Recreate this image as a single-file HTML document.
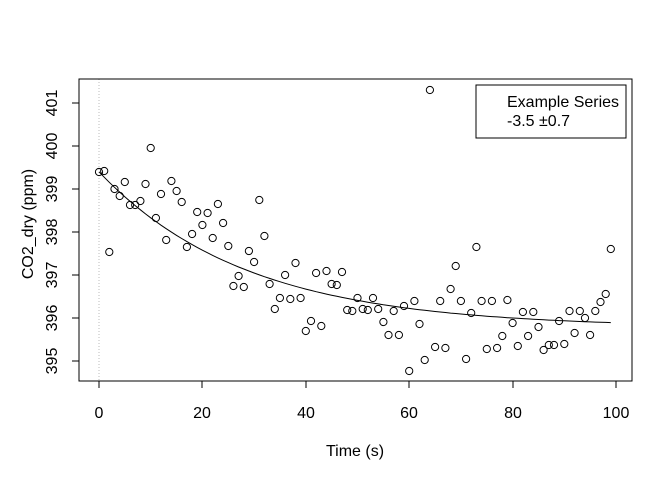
<!DOCTYPE html>
<html><head><meta charset="utf-8"><style>body{margin:0;background:#fff}svg{display:block;font-family:"Liberation Sans",sans-serif}</style></head>
<body>
<svg id="s" width="672" height="480" xmlns="http://www.w3.org/2000/svg">
<rect x="0" y="0" width="672" height="480" fill="#fff"/>
<line x1="99" y1="79" x2="99" y2="381" stroke="#bbb" stroke-dasharray="1,2"/>
<rect x="79" y="79" width="553" height="302" fill="none" stroke="#000"/>
<g stroke="#000">
<line x1="99" y1="381" x2="616" y2="381"/>
<line x1="99" y1="381" x2="99" y2="388"/><line x1="202" y1="381" x2="202" y2="388"/><line x1="306" y1="381" x2="306" y2="388"/><line x1="409" y1="381" x2="409" y2="388"/><line x1="513" y1="381" x2="513" y2="388"/><line x1="616" y1="381" x2="616" y2="388"/>
<line x1="79" y1="103" x2="79" y2="361"/>
<line x1="72" y1="361" x2="79" y2="361"/><line x1="72" y1="318" x2="79" y2="318"/><line x1="72" y1="275" x2="79" y2="275"/><line x1="72" y1="232" x2="79" y2="232"/><line x1="72" y1="189" x2="79" y2="189"/><line x1="72" y1="146" x2="79" y2="146"/><line x1="72" y1="103" x2="79" y2="103"/>
</g>
<g font-size="16" text-anchor="middle">
<text x="99" y="418">0</text><text x="202" y="418">20</text><text x="306" y="418">40</text><text x="409" y="418">60</text><text x="513" y="418">80</text><text x="616" y="418">100</text>
<text x="355" y="456">Time (s)</text>
<g transform="translate(57,0)">
<text transform="translate(0,361) rotate(-90)">395</text><text transform="translate(0,318) rotate(-90)">396</text><text transform="translate(0,275) rotate(-90)">397</text><text transform="translate(0,232) rotate(-90)">398</text><text transform="translate(0,189) rotate(-90)">399</text><text transform="translate(0,146) rotate(-90)">400</text><text transform="translate(0,103) rotate(-90)">401</text>
</g>
<text transform="translate(33,224) rotate(-90)">CO2_dry (ppm)</text>
</g>
<rect x="476" y="85" width="150" height="53" fill="#fff" stroke="#000"/>
<text x="507" y="107" font-size="16">Example Series</text>
<text x="507" y="126" font-size="16">-3.5 ±0.7</text>
<g id="pts" fill="none" stroke="#000" stroke-width="1"></g>
<path id="curve" fill="none" stroke="#000" stroke-width="1"/>
</svg>
<script>
var ys=[172,171,252,189,196,182,205,205,201,184,148,218,194,240,181,191,202,247,234,212,225,213,238,204,223,246,286,276,287,251,262,200,236,284,309,298,275,299,263,298,331,321,273,326,271,284,285,272,310,311,298,309,310,298,309,322,335,311,335,306,371,301,324,360,90,347,301,348,289,266,301,359,313,247,301,349,301,348,336,300,323,346,312,336,312,327,350,345,345,321,344,311,333,311,318,335,311,302,294,249];
var g=document.getElementById('pts'),h='';
for(var i=0;i<ys.length;i++){h+='<circle cx="'+(99+i*5.17).toFixed(1)+'" cy="'+ys[i]+'" r="3.6"/>';}
g.innerHTML=h;
var d='';
for(var t=0;t<=99;t+=1){var v=395.78+3.62*Math.exp(-0.035*t);var y=361-(v-395)*43;d+=(t?'L':'M')+(99+t*5.17).toFixed(1)+','+y.toFixed(1);}
document.getElementById('curve').setAttribute('d',d);
</script>
</body></html>
